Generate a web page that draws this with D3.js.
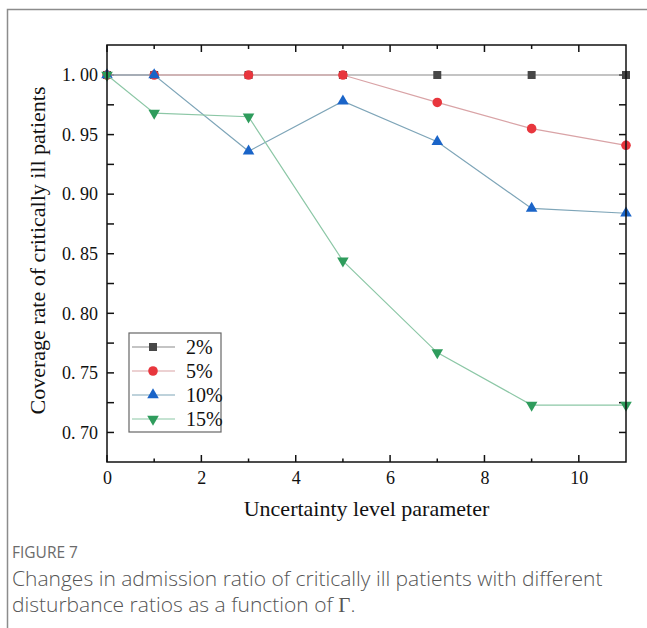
<!DOCTYPE html>
<html>
<head>
<meta charset="utf-8">
<script src="https://cdn.jsdelivr.net/npm/d3@7"></script>
<style>
  body { margin: 0; background: #fff; }
  svg { display: block; }
</style>
</head>
<body>
<div id="chart"></div>
<script>
const W = 647, H = 628;
const MARGIN = { LEFT: 107, RIGHT: 21, TOP: 45, BOTTOM: 166 };
const PW = W - MARGIN.LEFT - MARGIN.RIGHT;
const PH = H - MARGIN.TOP - MARGIN.BOTTOM;

// data
const gammaLevels = [0, 1, 3, 5, 7, 9, 11];
const seriesNames = ["2%", "5%", "10%", "15%"];
const cov2 = [1.0, 1.0, 1.0, 1.0, 1.0, 1.0, 1.0];
const cov5 = [1.0, 1.0, 1.0, 1.0, 0.977, 0.955, 0.941];
const cov10 = [1.0, 1.0, 0.936, 0.978, 0.944, 0.888, 0.884];
const cov15 = [1.0, 0.968, 0.965, 0.844, 0.767, 0.723, 0.723];
const xTicks = [0, 2, 4, 6, 8, 10];
const yTicks = [0.70, 0.75, 0.80, 0.85, 0.90, 0.95, 1.00];

const styles = [
  { values: cov2, line: "#8a8a8a", fill: "#474747", sym: d3.symbolSquare, size: 64, rot: 0 },
  { values: cov5, line: "#d9a3a6", fill: "#e8363d", sym: d3.symbolCircle, size: 72, rot: 0 },
  { values: cov10, line: "#7ea5b8", fill: "#1a64c8", sym: d3.symbolTriangle, size: 58, rot: 0 },
  { values: cov15, line: "#8cc7a6", fill: "#2e9c5c", sym: d3.symbolTriangle, size: 58, rot: 180 },
];

const svg = d3.select("#chart").append("svg")
  .attr("width", W).attr("height", H);

// outer figure frame (open at right and bottom)
svg.append("path")
  .attr("d", `M7.5,${H} L7.5,9.5 L${W},9.5`)
  .attr("fill", "none").attr("stroke", "#8c8c8c").attr("stroke-width", 1.5);

const g = svg.append("g")
  .attr("transform", `translate(${MARGIN.LEFT}, ${MARGIN.TOP})`);

const x = d3.scaleLinear().domain([0, 11]).range([0, PW]);
const y = d3.scaleLinear().domain([0.6752, 1.0252]).range([PH, 0]);

const serif = "'Liberation Serif', 'DejaVu Serif', serif";
const minorX = d3.range(1, 11, 2);
const allY = d3.range(0.675, 1.03, 0.025).filter(v => y(v) > 2 && y(v) < PH - 2);

// ticks, all pointing inward
const tickG = g.append("g").attr("stroke", "#111").attr("stroke-width", 1.5);
xTicks.forEach(v => {
  tickG.append("line").attr("x1", x(v)).attr("x2", x(v)).attr("y1", PH).attr("y2", PH - 7);
  tickG.append("line").attr("x1", x(v)).attr("x2", x(v)).attr("y1", 0).attr("y2", 7);
});
minorX.forEach(v => {
  tickG.append("line").attr("x1", x(v)).attr("x2", x(v)).attr("y1", PH).attr("y2", PH - 3.5);
  tickG.append("line").attr("x1", x(v)).attr("x2", x(v)).attr("y1", 0).attr("y2", 4);
});
allY.forEach(v => {
  tickG.append("line").attr("x1", 0).attr("x2", 7).attr("y1", y(v)).attr("y2", y(v));
  tickG.append("line").attr("x1", PW).attr("x2", PW - 7).attr("y1", y(v)).attr("y2", y(v));
});

// x tick labels
const xAxis = g.append("g")
  .attr("transform", `translate(0, ${PH})`)
  .call(d3.axisBottom(x).tickValues(xTicks).tickSize(0).tickPadding(9));
xAxis.select(".domain").remove();
xAxis.selectAll("text").attr("font-family", serif).attr("font-size", 18).attr("fill", "#111");

// y tick labels
const yAxis = g.append("g")
  .call(d3.axisLeft(y).tickValues(yTicks).tickSize(0).tickPadding(9)
    .tickFormat(d => d3.format(".2f")(d).replace(".", ".\u2005")));
yAxis.select(".domain").remove();
yAxis.selectAll("text").attr("font-family", serif).attr("font-size", 18).attr("fill", "#111");

// series
const line = d3.line().x((d, i) => x(gammaLevels[i])).y(d => y(d));
styles.forEach(s => {
  g.append("path")
    .attr("fill", "none").attr("stroke", s.line).attr("stroke-width", 1.2)
    .attr("d", line(s.values));
  g.selectAll(null).data(s.values).enter().append("path")
    .attr("d", d3.symbol().type(s.sym).size(s.size))
    .attr("transform", (d, i) => `translate(${x(gammaLevels[i])}, ${y(d)}) rotate(${s.rot})`)
    .attr("fill", s.fill);
});

// plot frame
g.append("rect")
  .attr("width", PW).attr("height", PH)
  .attr("fill", "none").attr("stroke", "#111").attr("stroke-width", 1.5);

// legend
const leg = g.append("g").attr("transform", `translate(${129 - MARGIN.LEFT}, ${333 - MARGIN.TOP})`);
leg.append("rect").attr("width", 92).attr("height", 99)
  .attr("fill", "#fff").attr("stroke", "#666").attr("stroke-width", 1.2);
seriesNames.forEach((name, i) => {
  const s = styles[i];
  const ly = 14 + i * 24;
  leg.append("line").attr("x1", 3).attr("x2", 46).attr("y1", ly).attr("y2", ly)
    .attr("stroke", s.line).attr("stroke-width", 1.2);
  leg.append("path")
    .attr("d", d3.symbol().type(s.sym).size(s.size))
    .attr("transform", `translate(24, ${ly}) rotate(${s.rot})`)
    .attr("fill", s.fill);
  leg.append("text").attr("x", 57).attr("y", ly + 7)
    .attr("font-family", serif).attr("font-size", 20).attr("fill", "#111")
    .text(name);
});

// axis titles
g.append("text")
  .attr("x", PW / 2).attr("y", PH + 54)
  .attr("text-anchor", "middle")
  .attr("font-family", serif).attr("font-size", 22).attr("fill", "#111")
  .text("Uncertainty level parameter");
g.append("text")
  .attr("transform", `translate(${-62}, ${PH / 2 - 3}) rotate(-90)`)
  .attr("text-anchor", "middle")
  .attr("font-family", serif).attr("font-size", 22).attr("fill", "#111")
  .text("Coverage rate of critically ill patients");

// caption
const sans = "'Open Sans', 'Noto Sans', sans-serif";
svg.append("text").attr("x", 12).attr("y", 558)
  .attr("font-family", sans).attr("font-size", 15.5).attr("fill", "#6b6b6b")
  .text("FIGURE 7");
svg.append("text").attr("x", 12).attr("y", 586)
  .attr("font-family", sans).attr("font-size", 21).attr("font-weight", 300).attr("fill", "#555")
  .text("Changes in admission ratio of critically ill patients with different");
const cap2 = svg.append("text").attr("x", 12).attr("y", 612)
  .attr("font-family", sans).attr("font-size", 21).attr("font-weight", 300).attr("fill", "#555");
cap2.append("tspan").text("disturbance ratios as a function of ");
cap2.append("tspan").attr("font-family", serif).text("Γ");
cap2.append("tspan").text(".");
</script>
</body>
</html>
